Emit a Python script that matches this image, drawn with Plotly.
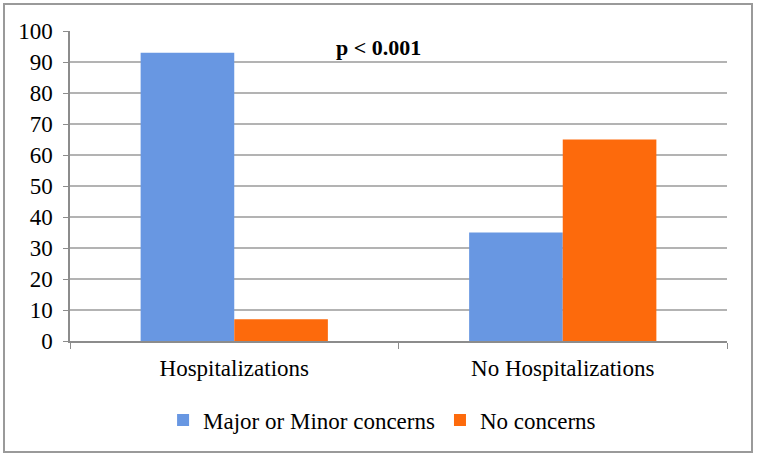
import plotly.graph_objects as go

categories = ["Hospitalizations", "No Hospitalizations"]
major_minor = [93, 35]
no_concerns = [7, 65]
series_names = ["Major or Minor concerns", "No concerns"]
y_ticks = [0, 10, 20, 30, 40, 50, 60, 70, 80, 90, 100]

FONT = "Liberation Serif"
FS = 23

fig = go.Figure()
fig.add_trace(go.Bar(x=categories, y=major_minor, name=series_names[0],
                     marker=dict(color="#6897E2", line=dict(width=0))))
fig.add_trace(go.Bar(x=categories, y=no_concerns, name=series_names[1],
                     marker=dict(color="#FD6A0C", line=dict(width=0))))

W, H = 757, 458
L, R, T, B = 70, 30, 31, 117
pw, ph = W - L - R, H - T - B

fig.update_layout(
    width=W, height=H,
    margin=dict(l=L, r=R, t=T, b=B),
    paper_bgcolor="white", plot_bgcolor="white",
    barmode="group", bargap=0.43, bargroupgap=0,
    font=dict(family=FONT, size=FS, color="black"),
    showlegend=True,
    legend=dict(orientation="h", x=0.475, xanchor="center",
                y=(T + ph - 420) / ph, yanchor="middle",
                font=dict(family=FONT, size=FS, color="black"),
                itemwidth=30, traceorder="normal"),
    xaxis=dict(showline=True, linecolor="#8c8c8c", linewidth=1.5,
               ticks="outside", ticklen=6, tickcolor="#8c8c8c",
               tickson="boundaries", showgrid=False,
               tickfont=dict(family=FONT, size=FS, color="black"),
               ticklabelstandoff=6),
    yaxis=dict(range=[0, 100], tickvals=y_ticks, showline=True,
               linecolor="#8c8c8c", linewidth=1.5, ticks="outside",
               ticklen=5, tickcolor="#8c8c8c", showgrid=True,
               gridcolor="#b3b3b3", gridwidth=1.5, zeroline=False,
               tickfont=dict(family=FONT, size=FS, color="black"),
               ticklabelstandoff=6),
    annotations=[dict(text="<b>p &lt; 0.001</b>", xref="paper", yref="paper",
                      x=(378 - L) / pw, y=(T + ph - 47) / ph,
                      showarrow=False, font=dict(family=FONT, size=22),
                      xanchor="center", yanchor="middle")],
    shapes=[dict(type="rect", xref="paper", yref="paper",
                 x0=(4 - L) / pw, x1=(752 - L) / pw,
                 y0=(T + ph - 452) / ph, y1=(T + ph - 4) / ph,
                 line=dict(color="#9a9a9a", width=2), layer="below")],
)

fig.write_html("out.html", config={"displayModeBar": False},
               post_script="document.body.style.margin='0';")
